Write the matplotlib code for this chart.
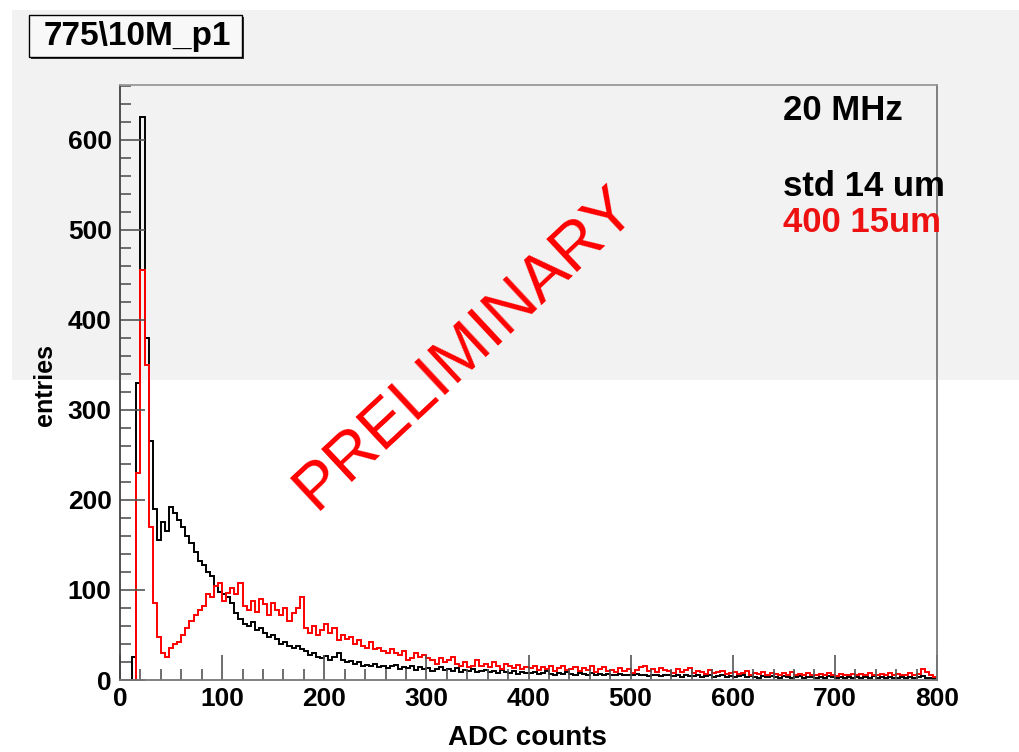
import numpy as np
import matplotlib
matplotlib.use("Agg")
import matplotlib.pyplot as plt
from matplotlib.patches import Rectangle
from matplotlib.ticker import MultipleLocator

plt.rcParams['font.family'] = ['Liberation Sans', 'DejaVu Sans']

# histogram contents, 4 ADC counts per bin, 0..800
bin_width = 4
x_range = (0, 800)

# black: "std 14 um"
std_counts = [
    0, 0, 0, 25, 330, 625, 380, 265, 190, 155,
    175, 165, 192, 185, 178, 170, 160, 152, 142, 132,
    128, 120, 115, 104, 98, 95, 92, 85, 74, 68,
    62, 60, 64, 55, 58, 52, 48, 50, 45, 40,
    42, 38, 36, 38, 34, 32, 28, 30, 26, 24,
    27, 22, 25, 30, 22, 20, 21, 18, 20, 16,
    17, 15, 18, 14, 16, 13, 15, 17, 12, 14,
    13, 15, 11, 14, 12, 13, 10, 12, 14, 11,
    12, 10, 13, 9, 11, 10, 12, 9, 10, 11,
    9, 10, 8, 11, 9, 8, 10, 7, 9, 8,
    8, 9, 7, 8, 10, 7, 6, 8, 7, 9,
    7, 6, 8, 7, 6, 8, 5, 7, 6, 7,
    6, 5, 7, 6, 5, 6, 7, 5, 6, 4,
    5, 6, 4, 5, 6, 4, 5, 3, 5, 4,
    4, 5, 3, 4, 5, 3, 4, 5, 3, 4,
    3, 4, 5, 3, 4, 3, 2, 4, 3, 4,
    3, 2, 4, 3, 2, 3, 4, 2, 3, 3,
    2, 3, 2, 4, 3, 2, 3, 2, 3, 2,
    3, 2, 3, 2, 4, 2, 3, 2, 3, 2,
    2, 3, 2, 3, 2, 3, 4, 2, 2, 1,
]

# red: "400 15um"
thick_counts = [
    0, 0, 0, 0, 230, 455, 350, 170, 85, 48,
    30, 26, 36, 40, 42, 50, 58, 66, 72, 78,
    82, 95, 92, 104, 108, 88, 97, 102, 96, 108,
    82, 78, 88, 76, 90, 84, 72, 86, 78, 72,
    80, 66, 74, 80, 92, 58, 52, 60, 50, 56,
    62, 52, 58, 44, 50, 46, 48, 40, 44, 38,
    36, 42, 34, 36, 32, 30, 34, 30, 28, 32,
    22, 24, 30, 26, 28, 24, 22, 18, 24, 20,
    22, 26, 18, 16, 20, 14, 16, 22, 15, 18,
    14, 20, 16, 12, 18, 15, 13, 17, 12, 14,
    13, 16, 11, 14, 12, 15, 10, 13, 16, 11,
    12, 14, 10, 13, 11, 15, 9, 12, 14, 10,
    11, 9, 13, 10, 12, 8, 11, 14, 16, 10,
    12, 9, 13, 11, 10, 8, 12, 9, 11, 13,
    8, 10, 9, 7, 11, 8, 9, 10, 7, 8,
    9, 7, 8, 10, 6, 8, 7, 9, 6, 8,
    7, 5, 8, 6, 9, 5, 7, 6, 8, 5,
    6, 7, 5, 8, 6, 4, 7, 5, 6, 7,
    5, 7, 6, 8, 5, 6, 7, 5, 8, 6,
    7, 5, 6, 8, 6, 7, 12, 9, 5, 3,
]

title = "775\\10M_p1"
labels = ["20 MHz", "std 14 um", "400 15um"]

edges = np.arange(x_range[0], x_range[1] + bin_width, bin_width)

W, H = 1020, 752
fig = plt.figure(figsize=(W / 100, H / 100), dpi=100)
fig.patch.set_facecolor('white')


def px_rect(x0, y0, x1, y1, **kw):
    # rectangle given in screen pixels (y down), drawn in figure coords
    return Rectangle((x0 / W, 1 - y1 / H), (x1 - x0) / W, (y1 - y0) / H,
                     transform=fig.transFigure, **kw)


# grey band of the screenshot behind the upper half
fig.patches.append(px_rect(12, 10, W, 380, facecolor='#f2f2f2',
                           edgecolor='none', zorder=-10))

ax = fig.add_axes([120 / W, 1 - 680 / H, 817 / W, 595 / H])
ax.set_facecolor('none')

ax.stairs(std_counts, edges, color='black', linewidth=1.4)
ax.stairs(thick_counts, edges, color='#ff0000', linewidth=1.4)

ax.set_xlim(0, 800)
ax.set_ylim(0, 661)

ax.xaxis.set_major_locator(MultipleLocator(100))
ax.xaxis.set_minor_locator(MultipleLocator(20))
ax.yaxis.set_major_locator(MultipleLocator(100))
ax.yaxis.set_minor_locator(MultipleLocator(20))
ax.tick_params(which='both', direction='in', color='#555555', width=1.2)
ax.tick_params(which='major', length=18, labelsize=19, pad=6)
ax.tick_params(which='minor', length=8)
ax.tick_params(axis='x', pad=5)
for lab in ax.get_xticklabels() + ax.get_yticklabels():
    lab.set_fontweight('bold')

ax.spines['left'].set_color('#444444')
ax.spines['bottom'].set_color('#777777')
ax.spines['top'].set_color('#999999')
ax.spines['right'].set_color('#777777')
for s in ax.spines.values():
    s.set_linewidth(1.3)

fig.text(527 / W, 1 - 738 / H, "ADC counts", fontsize=20, fontweight='bold',
         ha='center', va='center')
fig.text(45 / W, 1 - 385 / H, "entries", fontsize=18, fontweight='bold',
         ha='center', va='center', rotation=90)

# title box (ROOT style, with a drop shadow)
fig.patches.append(px_rect(31, 17, 244, 59, facecolor='#333333',
                           edgecolor='none', zorder=1))
fig.patches.append(px_rect(29, 15, 242, 57, facecolor='#f8f8f8',
                           edgecolor='black', linewidth=1.0, zorder=2))
fig.text(137 / W, 1 - 37 / H, title, fontsize=24, fontweight='bold',
         ha='center', va='center', zorder=3)

fig.text(783 / W, 1 - 111 / H, labels[0], fontsize=25, fontweight='bold',
         ha='left', va='center')
fig.text(783 / W, 1 - 186 / H, labels[1], fontsize=25, fontweight='bold',
         ha='left', va='center')
fig.text(783 / W, 1 - 222 / H, labels[2], fontsize=25, fontweight='bold',
         ha='left', va='center', color='#ee1111')

fig.text(465 / W, 1 - 348 / H, "PRELIMINARY", fontsize=47, color='#ff0000',
         ha='center', va='center', rotation=43, rotation_mode='anchor')

fig.savefig("out.png", dpi=100)
